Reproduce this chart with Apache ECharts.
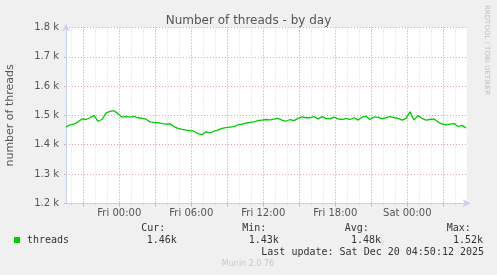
<!DOCTYPE html>
<html>
<head>
<meta charset="utf-8">
<script src="https://cdn.jsdelivr.net/npm/echarts@6/dist/echarts.min.js"></script>
<style>
html,body{margin:0;padding:0;background:#f0f0f0;}
#c{width:497px;height:275px;}
</style>
</head>
<body>
<div id="c"></div>
<script>
// ---- data (hours relative to Fri 00:00) ----
var sampleStartHour = -4.44;
var sampleStepHour = 1/3; // 20-minute samples
var threads = [
 1460,1468,1470,1478,1488,1486,1492,1500,1480,1486,
 1508,1514,1516,1506,1494,1496,1494,1497,1492,1490,
 1487,1478,1476,1475,1472,1470,1471,1462,1456,1452,
 1450,1448,1446,1438,1434,1444,1440,1446,1450,1456,
 1458,1460,1462,1468,1470,1474,1476,1478,1482,1484,
 1486,1485,1487,1490,1484,1480,1486,1482,1490,1495,
 1492,1492,1496,1488,1496,1490,1488,1494,1488,1486,
 1490,1486,1492,1484,1494,1497,1486,1494,1494,1488,
 1492,1496,1492,1490,1484,1490,1512,1484,1500,1490,
 1484,1486,1488,1478,1470,1468,1470,1472,1462,1466,
 1457
];
var xMin = -4.44, xMax = 28.95;
var majorGridHours = [-3,0,3,6,9,12,15,18,21,24,27];
var minorGridHours = [-4,-3,-2,-1,0,1,2,3,4,5,6,7,8,9,10,11,12,13,14,15,16,17,18,19,20,21,22,23,24,25,26,27,28];
var xLabelHours = [0,6,12,18,24];
var xLabelTexts = ['Fri 00:00','Fri 06:00','Fri 12:00','Fri 18:00','Sat 00:00'];
var yMin = 1200, yMax = 1800, yStep = 100;
var legendName = 'threads';
var statHeaders = ['Cur:','Min:','Avg:','Max:'];
var statValues = ['1.46k','1.43k','1.48k','1.52k'];
var lastUpdate = 'Last update: Sat Dec 20 04:50:12 2025';

var seriesData = threads.map(function(v,i){ return [sampleStartHour + i*sampleStepHour, v]; });

var mono = '"DejaVu Sans Mono", monospace';
var sans = '"DejaVu Sans", sans-serif';
var statX = [[141.3,146.7],[242.3,248.7],[344.7,351],[446.7,453]];
var graphics = [
  {type:'rect', shape:{x:14,y:237,width:6,height:6}, style:{fill:'#00cc00'}},
  {type:'text', x:27, y:240, style:{text:legendName, font:'10px '+mono, fill:'#333', textVerticalAlign:'middle'}},
  {type:'text', x:261.3, y:252, style:{text:lastUpdate, font:'10px '+mono, fill:'#333', textVerticalAlign:'middle'}},
  {type:'text', x:248, y:264, style:{text:'Munin 2.0.76', font:'8px '+sans, fill:'#c8c8c8', textAlign:'center', textVerticalAlign:'middle'}},
  {type:'text', x:487, y:5, rotation:-Math.PI/2, style:{text:'RRDTOOL / TOBI OETIKER', font:'7px '+sans, fill:'#c0c0c0', textAlign:'left', textVerticalAlign:'middle'}}
];
statHeaders.forEach(function(h,i){
  graphics.push({type:'text', x:statX[i][0], y:228, style:{text:h, font:'10px '+mono, fill:'#333', textVerticalAlign:'middle'}});
  graphics.push({type:'text', x:statX[i][1], y:240, style:{text:statValues[i], font:'10px '+mono, fill:'#333', textVerticalAlign:'middle'}});
});

var axisColor = '#c8d0f4';
var chart = echarts.init(document.getElementById('c'), null, {renderer:'canvas'});
chart.setOption({
  animation:false,
  backgroundColor:'#f0f0f0',
  title:{text:'Number of threads - by day', left:'center', top:10,
    textStyle:{fontFamily:sans, fontSize:12, fontWeight:'normal', color:'#555'}},
  grid:{left:66, top:27.5, width:400.7, height:175.8, show:true, backgroundColor:'#ffffff', borderWidth:0,
    containLabel:false, outerBoundsMode:'none'},
  xAxis:[
    {type:'value', min:xMin, max:xMax, show:true, position:'bottom',
     axisLine:{show:false, onZero:false}, axisLabel:{show:false},
     axisTick:{show:true, customValues:minorGridHours, length:2, lineStyle:{color:'#d8d8d8'}},
     splitLine:{show:true, lineStyle:{color:'#d8d8d8', type:[1,2], width:1}}},
    {type:'value', min:xMin, max:xMax, position:'bottom',
     axisLine:{show:true, onZero:false, lineStyle:{color:axisColor, width:1}, symbol:['none','arrow'], symbolSize:[6,8], symbolOffset:[0,4]},
     axisTick:{show:true, customValues:majorGridHours, length:3, lineStyle:{color:'#e8a8a8'}},
     axisLabel:{show:true, customValues:xLabelHours, margin:5, color:'#555', fontFamily:sans, fontSize:10,
       formatter:function(v){ var i = xLabelHours.indexOf(Math.round(v)); return i>=0 ? xLabelTexts[i] : ''; }},
     splitLine:{show:true, lineStyle:{color:'#e8a8a8', type:[1,2], width:1}}}
  ],
  yAxis:{type:'value', min:yMin, max:yMax, interval:yStep, position:'left',
    axisLine:{show:true, onZero:false, lineStyle:{color:axisColor, width:1}, symbol:['none','arrow'], symbolSize:[6,8], symbolOffset:[0,4]},
    axisTick:{show:true, length:2, lineStyle:{color:'#e8a8a8'}},
    axisLabel:{margin:7, color:'#555', fontFamily:sans, fontSize:10,
      formatter:function(v){ return (v/1000).toFixed(1)+' k'; }},
    splitLine:{show:true, lineStyle:{color:'#e8a8a8', type:[1,2], width:1}},
    name:'number of threads', nameLocation:'middle', nameRotate:90, nameGap:50,
    nameTextStyle:{fontFamily:sans, fontSize:11, color:'#555'}},
  graphic:graphics,
  series:[{type:'line', xAxisIndex:1, data:seriesData, showSymbol:false, symbol:'none',
    lineStyle:{color:'#00cc00', width:1.3}, itemStyle:{color:'#00cc00'}, z:5}]
});
</script>
</body>
</html>
